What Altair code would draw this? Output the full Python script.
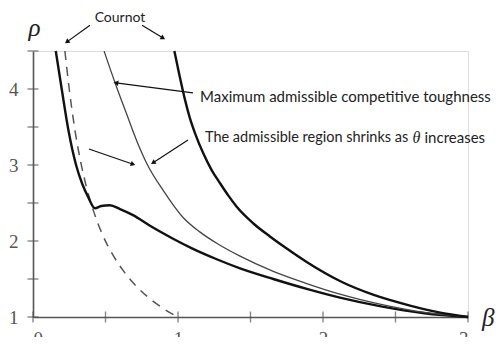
import math
import altair as alt
import pandas as pd

# ---- curves (beta, rho) ----
dash_beta = [0.22, 0.25, 0.29, 0.33, 0.37, 0.42, 0.48, 0.55, 0.63, 0.72, 0.82, 0.90, 0.97]
dash_rho = [4.50, 4.00, 3.45, 3.03, 2.70, 2.38, 2.08, 1.82, 1.59, 1.39, 1.22, 1.11, 1.03]

low_beta = [0.157, 0.198, 0.245, 0.297, 0.34, 0.38, 0.428, 0.47, 0.53, 0.60, 0.69, 0.807,
            0.966, 1.10, 1.267, 1.428, 1.657, 1.888, 2.117, 2.40, 2.70, 3.00]
low_rho = [4.50, 4.00, 3.45, 3.00, 2.75, 2.58, 2.43, 2.46, 2.47, 2.42, 2.34, 2.20,
           2.03, 1.90, 1.76, 1.64, 1.50, 1.37, 1.255, 1.14, 1.05, 1.00]

mid_beta = [0.49, 0.57, 0.64, 0.715, 0.79, 0.90, 1.035, 1.15, 1.267, 1.428, 1.657, 1.888,
            2.117, 2.40, 2.70, 3.00]
mid_rho = [4.50, 4.06, 3.70, 3.32, 3.00, 2.66, 2.31, 2.12, 1.97, 1.80, 1.60, 1.44,
           1.30, 1.165, 1.06, 1.00]

top_beta = [0.975, 1.01, 1.048, 1.08, 1.117, 1.175, 1.23, 1.29, 1.35, 1.405, 1.52, 1.634,
            1.75, 1.89, 2.12, 2.35, 2.60, 2.80, 3.00]
top_rho = [4.50, 4.18, 3.86, 3.63, 3.42, 3.15, 2.94, 2.76, 2.59, 2.45, 2.23, 2.06,
           1.90, 1.72, 1.47, 1.29, 1.15, 1.06, 1.00]

# ---- axes ----
x_labels = [0, 1, 2, 3]
y_labels = [1, 2, 3, 4]
x_ticks = [0, 0.5, 1, 1.5, 2, 2.5, 3]
y_ticks = [1, 1.5, 2, 2.5, 3, 3.5, 4, 4.5]

# ---- annotations (data coordinates) ----
arrow_x = [0.393, 0.752, 1.103, 0.386, 1.069]
arrow_y = [4.84, 4.84, 3.95, 3.21, 3.33]
arrow_x2 = [0.234, 0.897, 0.572, 0.690, 0.828]
arrow_y2 = [4.62, 4.67, 4.08, 3.01, 3.03]

texts = ["Cournot", "Maximum admissible competitive toughness",
         "The admissible region shrinks as", "increases"]
text_x = [0.60, 1.152, 1.186, 2.70]
text_y = [4.93, 3.89, 3.355, 3.355]
text_size = [14, 15, 14.5, 15]
text_align = ["center", "left", "left", "left"]

W, H = 435, 266
XD, YD = [0, 3], [1, 4.5]
PX_X = W / (XD[1] - XD[0])
PX_Y = H / (YD[1] - YD[0])

axis_font = "Liberation Serif"
axis_col = "#555555"
xs = alt.Scale(domain=XD, nice=False, zero=False)
ys = alt.Scale(domain=YD, nice=False, zero=False)
x_axis = alt.Axis(values=x_labels, ticks=False, grid=False, domainColor=axis_col,
                  domainWidth=1.6, labelFont=axis_font, labelFontSize=19,
                  labelColor=axis_col, labelPadding=12, format="d", title=None)
y_axis = alt.Axis(values=y_labels, ticks=False, grid=False, domainColor=axis_col,
                  domainWidth=1.6, labelFont=axis_font, labelFontSize=19,
                  labelColor=axis_col, labelPadding=15, format="d", title=None)


def X(f):
    return alt.X(f, scale=xs, axis=x_axis, title=None)


def Y(f):
    return alt.Y(f, scale=ys, axis=y_axis, title=None)


def curve_df(b, r):
    return pd.DataFrame({"beta": b, "rho": r, "i": range(len(b))})


def line(b, r, **kw):
    return alt.Chart(curve_df(b, r)).mark_line(interpolate="monotone", **kw).encode(
        x=X("beta:Q"), y=Y("rho:Q"), order="i:O",
    )


xtick = alt.Chart(pd.DataFrame({"beta": x_ticks})).mark_tick(
    orient="vertical", color=axis_col, thickness=1.4, size=11
).encode(x=X("beta:Q"), y=alt.value(H))

ytick = alt.Chart(pd.DataFrame({"rho": y_ticks})).mark_tick(
    orient="horizontal", color=axis_col, thickness=1.4, size=11
).encode(y=Y("rho:Q"), x=alt.value(0))

dashed = line(dash_beta, dash_rho, color="#555555", strokeWidth=1.5, strokeDash=[9, 7])
lower = line(low_beta, low_rho, color="#111111", strokeWidth=2.4)
middle = line(mid_beta, mid_rho, color="#444444", strokeWidth=1.3)
upper = line(top_beta, top_rho, color="#111111", strokeWidth=2.4)

# arrows
angles = []
for x1, y1, x2, y2 in zip(arrow_x, arrow_y, arrow_x2, arrow_y2):
    dx = (x2 - x1) * PX_X
    dy = -(y2 - y1) * PX_Y
    angles.append(math.degrees(math.atan2(dx, -dy)) % 360)
arr = pd.DataFrame({"x": arrow_x, "y": arrow_y, "x2": arrow_x2, "y2": arrow_y2, "ang": angles})

shafts = alt.Chart(arr).mark_rule(color="#111111", strokeWidth=1.2).encode(
    x=X("x:Q"), y=Y("y:Q"), x2="x2:Q", y2="y2:Q",
)
heads = alt.Chart(arr).mark_point(shape="triangle-up", filled=True, color="#111111",
                                  size=30, opacity=1).encode(
    x=X("x2:Q"), y=Y("y2:Q"), angle=alt.Angle("ang:Q", scale=None),
)

labels = []
for t, x, y, s, a in zip(texts, text_x, text_y, text_size, text_align):
    labels.append(
        alt.Chart(pd.DataFrame({"t": [t], "x": [x], "y": [y]})).mark_text(
            font="Lato", fontSize=s, color="#222222", align=a, baseline="middle"
        ).encode(x=X("x:Q"), y=Y("y:Q"), text="t:N")
    )

theta = alt.Chart(pd.DataFrame({"t": ["θ"], "x": [2.617], "y": [3.355]})).mark_text(
    font="Liberation Serif", fontStyle="italic", fontSize=16, color="#222222",
    align="left", baseline="middle"
).encode(x=X("x:Q"), y=Y("y:Q"), text="t:N")

sym = alt.Chart(pd.DataFrame({"t": ["ρ", "β"], "x": [0.01, 3.14], "y": [4.80, 0.99]})).mark_text(
    font="Liberation Serif", fontStyle="italic", fontSize=25, color="#222222",
    align="center", baseline="middle"
).encode(x=X("x:Q"), y=Y("y:Q"), text="t:N")

chart = alt.layer(
    xtick, ytick, dashed, lower, middle, upper, shafts, heads, *labels, theta, sym
).properties(
    width=W, height=H,
    autosize=alt.AutoSizeParams(type="none"),
    padding={"left": 25, "top": 43, "right": 27, "bottom": 20},
).configure_view(stroke=None).configure(background="white")

chart.save("out.html", embed_options={"renderer": "svg", "actions": False})
